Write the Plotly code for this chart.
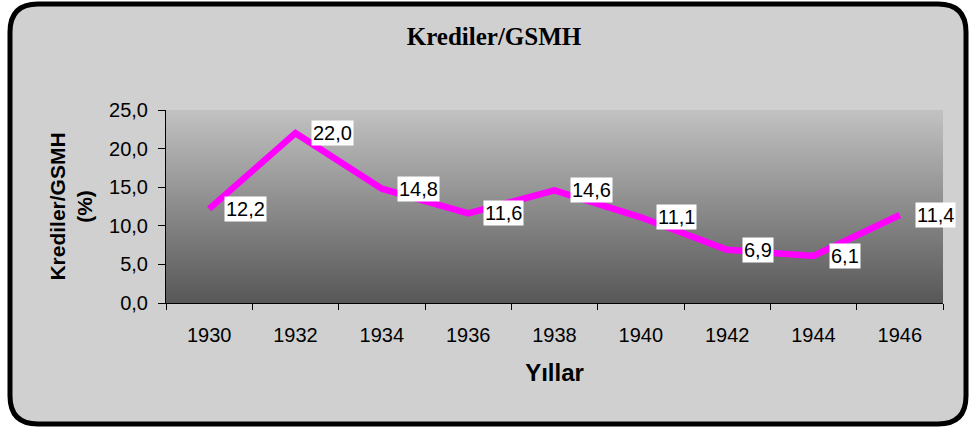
import plotly.graph_objects as go

years = [1930, 1932, 1934, 1936, 1938, 1940, 1942, 1944, 1946]
values = [12.2, 22.0, 14.8, 11.6, 14.6, 11.1, 6.9, 6.1, 11.4]
labels = ["12,2", "22,0", "14,8", "11,6", "14,6", "11,1", "6,9", "6,1", "11,4"]
y_ticks = [0, 5, 10, 15, 20, 25]

W, H = 972, 429
L, R, T, B = 166, 29, 110, 126
pw, ph = W - L - R, H - T - B

x_lo, x_hi = years[0] - 1, years[-1] + 1
boundaries = list(range(x_lo, x_hi + 1, 2))

FONT = "Arial, Liberation Sans, sans-serif"

fig = go.Figure()

# gradient plot-area background
fig.add_trace(go.Scatter(
    x=[x_lo, x_hi, x_hi, x_lo, x_lo], y=[0, 0, 25, 25, 0],
    mode="lines", line=dict(width=0), fill="toself",
    fillgradient=dict(type="vertical",
                      colorscale=[[0, "#575757"], [0.5, "#8c8c8c"], [1, "#c2c2c2"]]),
    hoverinfo="skip", showlegend=False))

fig.add_trace(go.Scatter(
    x=years, y=values, mode="lines",
    line=dict(color="#FF00FF", width=6.5), showlegend=False))

for xv, yv, t in zip(years, values, labels):
    fig.add_annotation(x=xv, y=yv, text=t, showarrow=False,
                       xanchor="left", yanchor="middle", xshift=15, yshift=0,
                       bgcolor="white", borderpad=1,
                       font=dict(family=FONT, size=20, color="black"))

def px_x(p):
    return (p - L) / pw

def px_y(p):
    return (H - B - p) / ph

x0, x1 = px_x(10), px_x(966)
y0, y1 = px_y(424), px_y(4)
rx, ry = 28 / pw, 28 / ph
path = (f"M {x0+rx} {y1} L {x1-rx} {y1} Q {x1} {y1} {x1} {y1-ry} "
        f"L {x1} {y0+ry} Q {x1} {y0} {x1-rx} {y0} L {x0+rx} {y0} "
        f"Q {x0} {y0} {x0} {y0+ry} L {x0} {y1-ry} Q {x0} {y1} {x0+rx} {y1} Z")
fig.add_shape(type="path", path=path, xref="paper", yref="paper",
              fillcolor="#d0d0d0", line=dict(color="black", width=5), layer="below")

fig.update_layout(
    width=W, height=H,
    margin=dict(l=L, r=R, t=T, b=B),
    paper_bgcolor="white", plot_bgcolor="rgba(0,0,0,0)",
    separators=",.",
    title=dict(text="<b>Krediler/GSMH</b>", x=494 / W, xref="container", xanchor="center",
               y=1 - 36 / H, yanchor="middle",
               font=dict(family="Liberation Serif, Times New Roman, serif", size=25, color="black")),
    xaxis=dict(range=[x_lo, x_hi], tickvals=years, ticktext=[str(y) for y in years],
               ticks="", showline=True, linecolor="black", linewidth=1,
               showgrid=False, zeroline=False, ticklabelstandoff=14,
               tickfont=dict(family=FONT, size=20, color="black"),
               minor=dict(tickvals=boundaries, ticks="outside", ticklen=6,
                          tickcolor="black", showgrid=False),
               title=dict(text="<b>Yıllar</b>", standoff=19,
                          font=dict(family=FONT, size=24, color="black"))),
    yaxis=dict(range=[0, 25], tickvals=y_ticks, tickformat=".1f",
               ticks="outside", ticklen=7, tickcolor="black",
               showline=True, linecolor="black", linewidth=1,
               showgrid=False, zeroline=False, ticklabelstandoff=6,
               tickfont=dict(family=FONT, size=20, color="black"),
               title=dict(text="<b>Krediler/GSMH<br>(%)</b>", standoff=10,
                          font=dict(family=FONT, size=21, color="black"))),
)

fig.write_html("out.html", config={"displayModeBar": False},
               post_script="document.body.style.margin='0';document.body.style.overflow='hidden';")
